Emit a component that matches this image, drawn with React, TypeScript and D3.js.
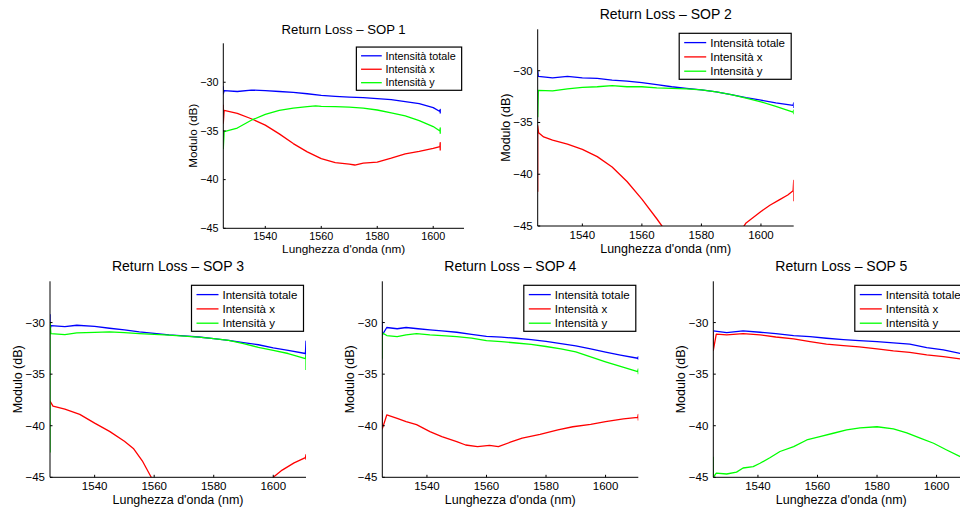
import React from "react";
import * as d3 from "d3";

type Pt = [number, number];

// ---------- data ----------
const titles = [
  "Return Loss – SOP 1",
  "Return Loss – SOP 2",
  "Return Loss – SOP 3",
  "Return Loss – SOP 4",
  "Return Loss – SOP 5",
];
const legendLabels = ["Intensità totale", "Intensità x", "Intensità y"];
const xLabel = "Lunghezza d'onda (nm)";
const yLabel = "Modulo (dB)";
const xTicks = [1540, 1560, 1580, 1600];
const yTicks = [-30, -35, -40, -45];
const xDomain: [number, number] = [1525, 1611];
const yDomain: [number, number] = [-45, -26];

// SOP 1
const sop1Totale: Pt[] = [
  [1525, -30.4], [1525, -31.2], [1525.3, -30.85], [1530, -30.95], [1535, -30.8], [1540, -30.87],
  [1545, -30.95], [1550, -31.03], [1555, -31.18], [1560, -31.35], [1565, -31.45], [1570, -31.52],
  [1575, -31.58], [1580, -31.68], [1585, -31.78], [1590, -31.98], [1595, -32.2], [1600, -32.6],
  [1602.4, -33.0], [1602.5, -32.8], [1602.5, -33.2],
];
const sop1X: Pt[] = [
  [1525, -32.3], [1525, -34.2], [1525.3, -32.9], [1530, -33.2], [1535, -33.75], [1540, -34.4],
  [1545, -35.3], [1550, -36.3], [1555, -37.15], [1560, -37.85], [1565, -38.25], [1570, -38.4],
  [1572, -38.5], [1575, -38.3], [1580, -38.2], [1585, -37.8], [1590, -37.35], [1595, -37.1],
  [1600, -36.8], [1602.4, -36.6], [1602.5, -36.2], [1602.5, -37.0],
];
const sop1Y: Pt[] = [
  [1525, -34.9], [1525, -36.8], [1525.3, -35.07], [1530, -34.7], [1535, -33.9], [1540, -33.3],
  [1545, -32.9], [1550, -32.65], [1555, -32.5], [1558, -32.43], [1560, -32.47], [1565, -32.5],
  [1570, -32.55], [1575, -32.65], [1580, -32.85], [1585, -33.15], [1590, -33.45], [1595, -33.95],
  [1600, -34.55], [1602.4, -35.0], [1602.5, -34.7], [1602.5, -35.3],
];

// SOP 2
const sop2Totale: Pt[] = [
  [1525, -30.0], [1525.2, -30.55], [1530, -30.7], [1535, -30.55], [1540, -30.7], [1545, -30.75],
  [1550, -30.9], [1555, -31.0], [1560, -31.15], [1565, -31.35], [1570, -31.55], [1575, -31.7],
  [1580, -31.85], [1585, -32.05], [1590, -32.3], [1595, -32.6], [1600, -32.85], [1605, -33.1],
  [1610.8, -33.35], [1611, -33.1], [1611, -33.6],
];
const sop2X: Pt[] = [
  [1525, -41.7], [1525, -35.3], [1525.3, -36.0], [1527, -36.4], [1530, -36.7], [1535, -37.1],
  [1540, -37.6], [1545, -38.3], [1550, -39.3], [1555, -40.7], [1560, -42.4], [1565, -44.3],
  [1567, -45.1], [1575, -48], [1582, -49.5], [1588, -48], [1592, -46], [1595, -44.7],
  [1600, -43.6], [1603, -43.0], [1606, -42.5], [1609, -42.0], [1610.8, -41.6], [1611, -40.6],
  [1611, -42.6],
];
const sop2Y: Pt[] = [
  [1525, -34.5], [1525.2, -31.9], [1530, -31.95], [1535, -31.75], [1540, -31.6], [1545, -31.55],
  [1550, -31.45], [1555, -31.55], [1560, -31.55], [1565, -31.65], [1570, -31.7], [1575, -31.75],
  [1580, -31.85], [1585, -32.05], [1590, -32.3], [1595, -32.65], [1600, -33.0], [1605, -33.45],
  [1610.8, -34.0], [1611, -33.8], [1611, -34.2],
];

// SOP 3
const sop3Totale: Pt[] = [
  [1525, -29.2], [1525, -30.8], [1525.3, -30.3], [1530, -30.4], [1534, -30.26], [1540, -30.37],
  [1545, -30.55], [1550, -30.7], [1555, -30.9], [1560, -31.05], [1565, -31.2], [1570, -31.3],
  [1575, -31.4], [1580, -31.55], [1585, -31.72], [1590, -31.95], [1595, -32.15], [1600, -32.45],
  [1605, -32.7], [1610.8, -33.0], [1611, -31.8], [1611, -33.5],
];
const sop3X: Pt[] = [
  [1525, -37.6], [1526, -38.1], [1530, -38.4], [1535, -38.9], [1540, -39.75], [1545, -40.55],
  [1550, -41.5], [1553, -42.2], [1556, -43.4], [1559, -45.0], [1565, -47], [1575, -50],
  [1585, -50], [1595, -47], [1600, -45], [1603, -44.3], [1607, -43.6], [1610.8, -43.1],
  [1611, -42.8], [1611, -43.3],
];
const sop3Y: Pt[] = [
  [1525, -42.6], [1525, -30.0], [1525.3, -31.07], [1530, -31.17], [1534, -31.0], [1540, -30.95],
  [1545, -30.9], [1550, -30.98], [1555, -31.07], [1560, -31.14], [1565, -31.22], [1570, -31.32],
  [1575, -31.42], [1580, -31.55], [1585, -31.72], [1590, -32.05], [1595, -32.4], [1600, -32.7],
  [1605, -33.0], [1610.8, -33.5], [1611, -33.2], [1611, -34.6],
];

// SOP 4
const sop4Totale: Pt[] = [
  [1525, -29.9], [1525, -31.2], [1526.5, -30.48], [1530, -30.6], [1533, -30.48], [1537, -30.6],
  [1541, -30.7], [1545, -30.8], [1550, -30.94], [1555, -31.15], [1560, -31.33], [1565, -31.42],
  [1570, -31.52], [1575, -31.65], [1580, -31.83], [1585, -32.05], [1590, -32.27], [1595, -32.56],
  [1600, -32.86], [1605, -33.15], [1610.8, -33.46], [1611, -33.3], [1611, -33.6],
];
const sop4X: Pt[] = [
  [1525, -38.5], [1525, -40.3], [1526.5, -38.96], [1530, -39.28], [1533, -39.6], [1536.5, -39.9],
  [1541, -40.57], [1545, -41.06], [1550, -41.54], [1553, -41.87], [1557, -42.03], [1561, -41.9],
  [1564, -42.03], [1568, -41.6], [1572, -41.2], [1578, -40.83], [1584, -40.4], [1589, -40.1],
  [1595, -39.86], [1600, -39.6], [1606, -39.34], [1610.8, -39.2], [1611, -38.9], [1611, -39.5],
];
const sop4Y: Pt[] = [
  [1525, -33.5], [1525, -31.0], [1526.5, -31.26], [1530, -31.36], [1533, -31.2], [1536.5, -31.07],
  [1541, -31.2], [1545, -31.26], [1550, -31.36], [1555, -31.5], [1560, -31.75], [1565, -31.85],
  [1570, -31.98], [1575, -32.12], [1580, -32.32], [1585, -32.55], [1590, -32.85], [1595, -33.32],
  [1600, -33.8], [1605, -34.25], [1610.8, -34.75], [1611, -34.5], [1611, -35.0],
];

// SOP 5
const sop5Totale: Pt[] = [
  [1525, -30.8], [1529.5, -30.97], [1535, -30.8], [1540.7, -30.94], [1546, -31.07], [1552, -31.26],
  [1557.5, -31.36], [1563, -31.52], [1568.7, -31.65], [1574, -31.75], [1580, -31.84], [1585.5, -31.97],
  [1591, -32.1], [1596.7, -32.42], [1602.3, -32.65], [1608, -33.0], [1611, -33.2],
];
const sop5X: Pt[] = [
  [1525, -30.9], [1525, -32.7], [1526, -31.13], [1529.5, -31.2], [1535, -31.07], [1540.7, -31.2],
  [1546, -31.4], [1552, -31.58], [1557.5, -31.84], [1563, -32.1], [1568.7, -32.23], [1574, -32.36],
  [1580, -32.55], [1585.5, -32.75], [1591, -32.88], [1596.7, -33.14], [1602.3, -33.3], [1608, -33.52],
  [1611, -33.65],
];
const sop5Y: Pt[] = [
  [1525, -43.0], [1525, -45], [1526, -44.6], [1529.5, -44.68], [1532.8, -44.5], [1535, -44.1],
  [1538.4, -43.97], [1540.7, -43.64], [1544, -43.1], [1547.4, -42.5], [1552, -42.03], [1556.4, -41.38],
  [1560.8, -41.06], [1565.3, -40.73], [1569.8, -40.4], [1574.3, -40.2], [1580, -40.1], [1585.5, -40.3],
  [1590, -40.7], [1594.5, -41.2], [1599, -41.7], [1603.4, -42.35], [1608, -43.0], [1611, -43.5],
];

const panelSeries: Pt[][][] = [
  [sop1Totale, sop1X, sop1Y],
  [sop2Totale, sop2X, sop2Y],
  [sop3Totale, sop3X, sop3Y],
  [sop4Totale, sop4X, sop4Y],
  [sop5Totale, sop5X, sop5Y],
];

// ---------- layout & style ----------
const seriesColors = ["#0000ff", "#ff0000", "#00ff00"];
const FONT = "'Liberation Sans', Arial, Helvetica, sans-serif";
const layouts = [
  { left: 223.3, top: 43.3, width: 240.7, height: 185, s: 0.94 },
  { left: 537.7, top: 29.3, width: 256, height: 196.7, s: 1 },
  { left: 50, top: 281.3, width: 256, height: 196, s: 1 },
  { left: 382.3, top: 281.3, width: 256, height: 196, s: 1 },
  { left: 713.3, top: 281.3, width: 256, height: 196, s: 1 },
];

function Panel({ idx }: { idx: number }) {
  const L = layouts[idx];
  const s = L.s;
  const x = d3.scaleLinear().domain(xDomain).range([L.left, L.left + L.width]);
  const y = d3.scaleLinear().domain(yDomain).range([L.top + L.height, L.top]);
  const line = d3
    .line<Pt>()
    .x((d) => x(d[0]))
    .y((d) => y(d[1]));
  const bottom = L.top + L.height;
  const clipId = `clip-${idx}`;
  const lw = 112 * s;
  const lh = 46 * s;
  const lx = L.left + L.width - 2.5 * s - lw;
  const ly = L.top + 4 * s;
  const tickFont = 11.5 * s;
  return (
    <g>
      <defs>
        <clipPath id={clipId}>
          <rect x={L.left} y={L.top} width={L.width} height={L.height} />
        </clipPath>
      </defs>
      <text
        x={L.left + L.width / 2}
        y={L.top - 10 * s}
        textAnchor="middle"
        fontSize={14 * s}
        fontFamily={FONT}
        fill="#000"
      >
        {titles[idx]}
      </text>
      <g clipPath={`url(#${clipId})`}>
        {panelSeries[idx].map((data, i) => (
          <path
            key={i}
            d={line(data) || ""}
            fill="none"
            stroke={seriesColors[i]}
            strokeWidth={1.3}
            strokeLinejoin="round"
          />
        ))}
      </g>
      <line x1={L.left} x2={L.left} y1={L.top} y2={bottom} stroke="#000" strokeWidth={1} />
      <line x1={L.left} x2={L.left + L.width} y1={bottom} y2={bottom} stroke="#000" strokeWidth={1} />
      {yTicks.map((t) => (
        <g key={"y" + t}>
          <line x1={L.left} x2={L.left + 2.5 * s} y1={y(t)} y2={y(t)} stroke="#000" strokeWidth={1} />
          <text
            x={L.left - 5 * s}
            y={y(t)}
            dy="0.35em"
            textAnchor="end"
            fontSize={tickFont}
            fontFamily={FONT}
            fill="#000"
          >
            {"\u2212" + Math.abs(t)}
          </text>
        </g>
      ))}
      {xTicks.map((t) => (
        <g key={"x" + t}>
          <line x1={x(t)} x2={x(t)} y1={bottom} y2={bottom - 2.5 * s} stroke="#000" strokeWidth={1} />
          <text
            x={x(t)}
            y={bottom + 12.5 * s}
            textAnchor="middle"
            fontSize={tickFont}
            fontFamily={FONT}
            fill="#000"
          >
            {t}
          </text>
        </g>
      ))}
      <text
        x={L.left + L.width / 2}
        y={bottom + 26.5 * s}
        textAnchor="middle"
        fontSize={12.5 * s}
        fontFamily={FONT}
        fill="#000"
      >
        {xLabel}
      </text>
      <text
        transform={`translate(${L.left - 32.5 * s},${L.top + L.height / 2}) rotate(-90)`}
        textAnchor="middle"
        dy="0.35em"
        fontSize={12.5 * s}
        fontFamily={FONT}
        fill="#000"
      >
        {yLabel}
      </text>
      <rect x={lx} y={ly} width={lw} height={lh} fill="#fff" stroke="#000" strokeWidth={1.2} />
      {legendLabels.map((lab, i) => {
        const ry = ly + (9.3 + 14.3 * i) * s;
        return (
          <g key={lab}>
            <line
              x1={lx + 5 * s}
              x2={lx + 27 * s}
              y1={ry}
              y2={ry}
              stroke={seriesColors[i]}
              strokeWidth={1.3}
            />
            <text
              x={lx + 31 * s}
              y={ry}
              dy="0.35em"
              fontSize={tickFont}
              fontFamily={FONT}
              fill="#000"
            >
              {lab}
            </text>
          </g>
        );
      })}
    </g>
  );
}

export default function App() {
  return (
    <svg
      width={960}
      height={509}
      viewBox="0 0 960 509"
      style={{ position: "absolute", left: 0, top: 0, background: "#fff" }}
    >
      <rect x={0} y={0} width={960} height={509} fill="#fff" />
      {layouts.map((_, i) => (
        <Panel key={i} idx={i} />
      ))}
    </svg>
  );
}
